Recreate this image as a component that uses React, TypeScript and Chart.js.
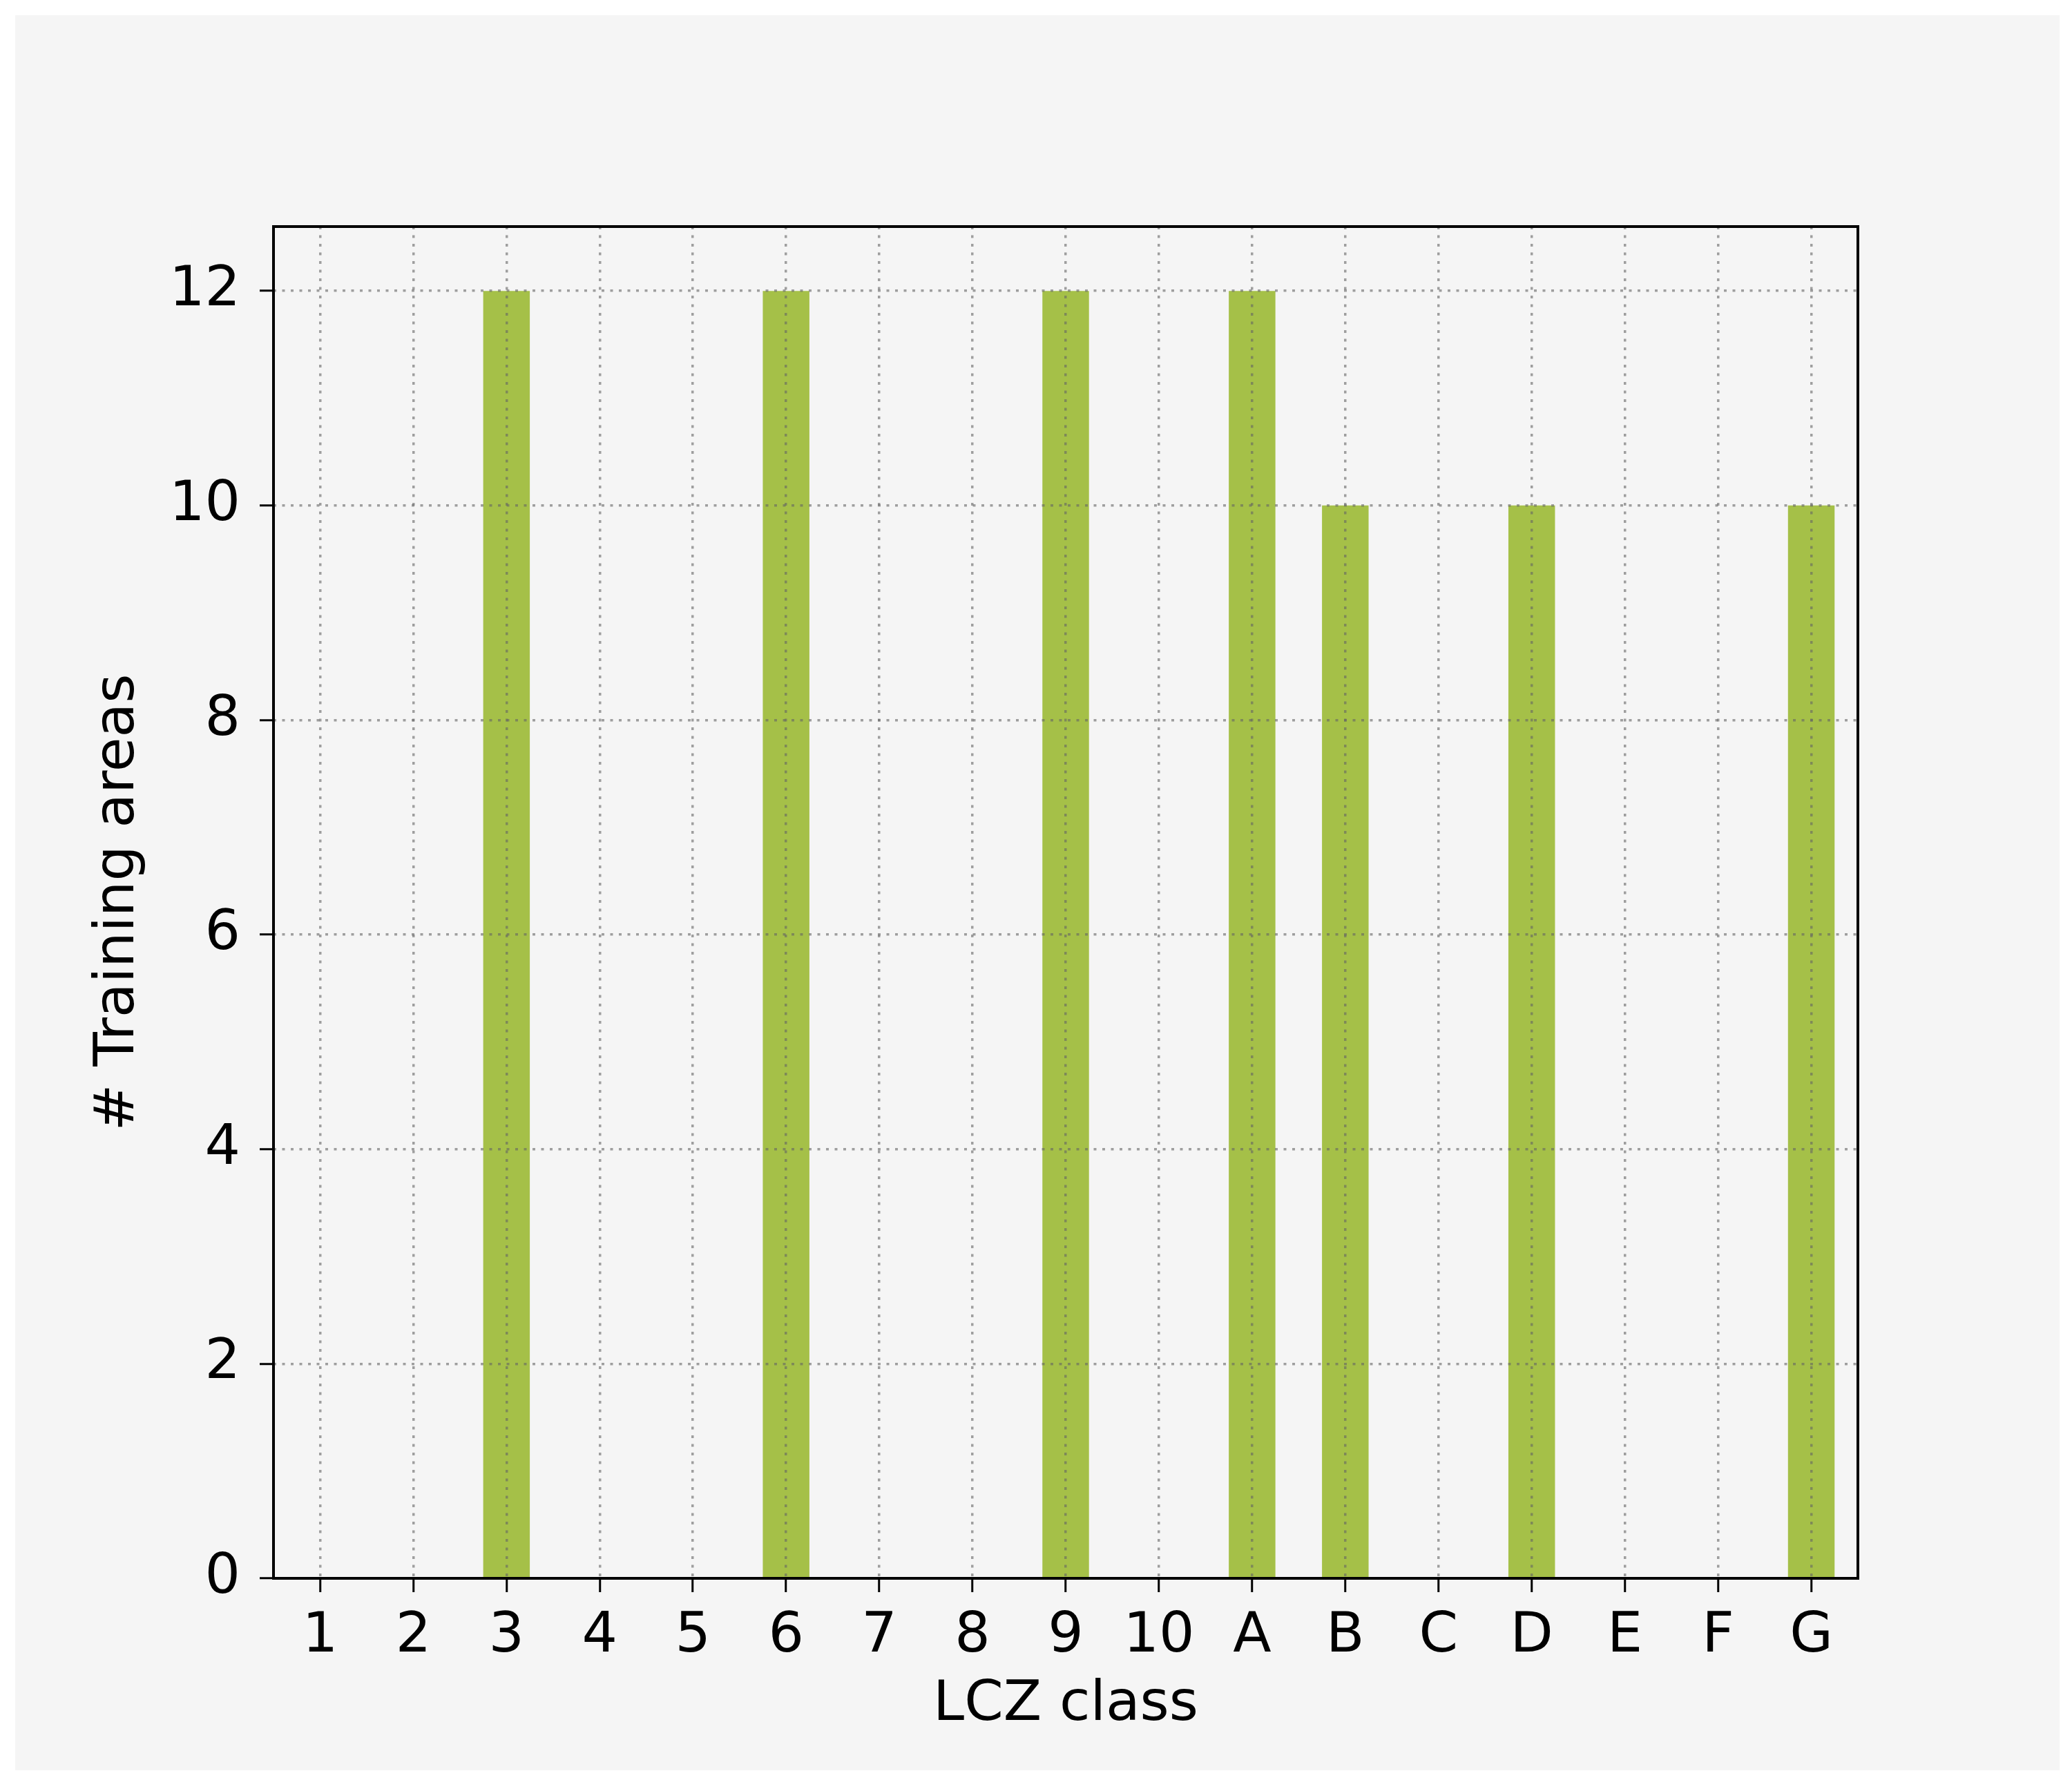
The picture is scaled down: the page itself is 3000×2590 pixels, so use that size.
import React, { useEffect, useRef } from "react";
import { Chart, registerables } from "chart.js";

Chart.register(...registerables);

const categories = ["1", "2", "3", "4", "5", "6", "7", "8", "9", "10", "A", "B", "C", "D", "E", "F", "G"];
const trainingAreas = [0, 0, 12, 0, 0, 12, 0, 0, 12, 0, 12, 10, 0, 10, 0, 0, 10];
const yTickValues = [0, 2, 4, 6, 8, 10, 12];
const xTitle = "LCZ class";
const yTitle = "# Training areas";

const FONT = "'DejaVu Sans', 'Liberation Sans', sans-serif";
const GRID_COLOR = "rgba(100,100,100,0.6)";

export default function App() {
  const ref = useRef<HTMLCanvasElement>(null);

  useEffect(() => {
    if (!ref.current) return;
    const framePlugin = {
      id: "frame",
      afterDraw(chart: any) {
        const { ctx, chartArea } = chart;
        const { left, top, right, bottom } = chartArea;
        ctx.save();
        ctx.strokeStyle = "#000";
        ctx.lineWidth = 4;
        ctx.strokeRect(left, top, right - left, bottom - top);
        ctx.restore();
      },
    };

    const chart = new Chart(ref.current, {
      type: "bar",
      data: {
        labels: categories,
        datasets: [
          {
            data: trainingAreas,
            backgroundColor: "#a5c048",
            borderWidth: 0,
            barPercentage: 0.5,
            categoryPercentage: 1,
          },
        ],
      },
      options: {
        responsive: false,
        animation: false,
        devicePixelRatio: 1,
        layout: { padding: { left: 0, top: 328, right: 310, bottom: 0 } },
        plugins: {
          legend: { display: false },
          tooltip: { enabled: false },
        },
        scales: {
          x: {
            type: "category",
            offset: true,
            grid: {
              offset: false,
              color: GRID_COLOR,
              lineWidth: 3.5,
              z: 1,
              drawTicks: true,
              tickColor: "#000",
              tickWidth: 3,
              tickLength: 20,
              tickBorderDash: [],
            },
            border: { display: false, dash: [4, 8.5] },
            ticks: {
              color: "#000",
              font: { family: FONT, size: 81 },
              padding: 16,
              autoSkip: false,
              maxRotation: 0,
              minRotation: 0,
            },
            title: {
              display: true,
              text: xTitle,
              color: "#000",
              font: { family: FONT, size: 81 },
              padding: { top: 0, bottom: 72 },
            },
            afterFit(scale: any) {
              scale.height = 305;
            },
          },
          y: {
            type: "linear",
            min: 0,
            max: 12.6,
            grid: {
              color: GRID_COLOR,
              lineWidth: 3.5,
              z: 1,
              drawTicks: true,
              tickColor: "#000",
              tickWidth: 3,
              tickLength: 20,
              tickBorderDash: [],
            },
            border: { display: false, dash: [4, 8.5] },
            afterBuildTicks(scale: any) {
              scale.ticks = yTickValues.map((v) => ({ value: v }));
            },
            ticks: {
              color: "#000",
              font: { family: FONT, size: 81 },
              padding: 28,
              includeBounds: false,
            },
            title: {
              display: true,
              text: yTitle,
              color: "#000",
              font: { family: FONT, size: 81 },
              padding: { top: 123, bottom: 0 },
            },
            afterFit(scale: any) {
              scale.width = 396;
            },
          },
        },
      },
      plugins: [framePlugin],
    } as any);

    return () => chart.destroy();
  }, []);

  return (
    <div style={{ position: "absolute", left: 0, top: 0, width: 3000, height: 2590, background: "#ffffff" }}>
      <div style={{ position: "absolute", left: 22, top: 22, width: 2960, height: 2541, background: "#f5f5f5" }} />
      <canvas ref={ref} width={3000} height={2590} style={{ position: "absolute", left: 0, top: 0, width: 3000, height: 2590 }} />
    </div>
  );
}
